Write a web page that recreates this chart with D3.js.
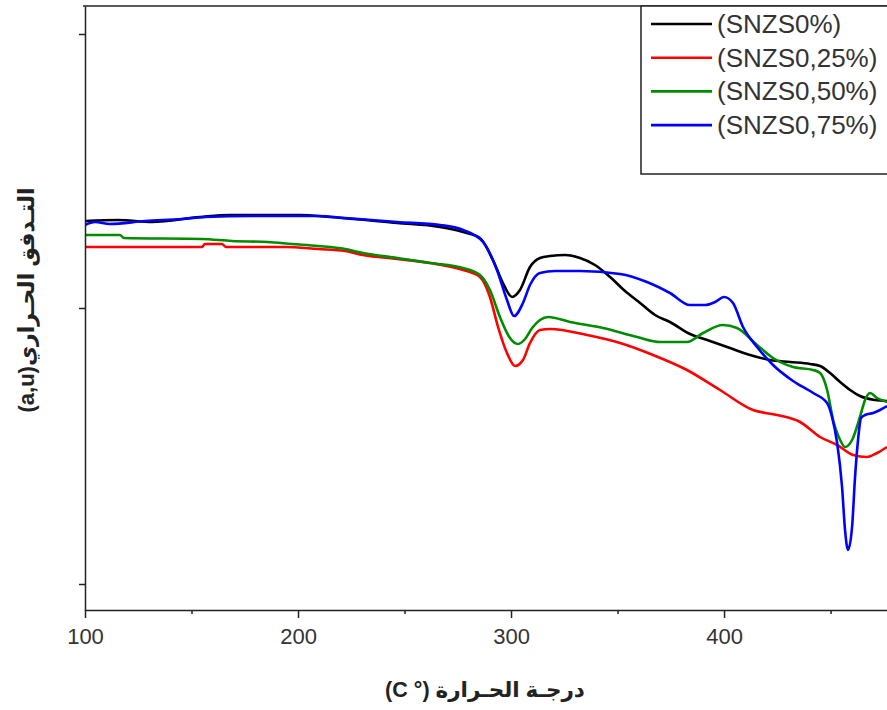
<!DOCTYPE html>
<meta charset="utf-8">
<style>
body { margin: 0; background: #fff; }
svg { display: block; font-family: Arial, "Liberation Sans", "DejaVu Sans", sans-serif; }
.curve { fill: none; stroke-width: 2.6px; stroke-linejoin: round; }
</style>
<svg width="887" height="710"></svg>
<script src="https://d3js.org/d3.v7.min.js"></script>
<script>

// temperature (°C), heat flow (a.u.)
var s0 = [[100,3.89],[115.5,3.90],[131.5,3.88],[154,3.93],[168,3.95],[201,3.95],[215,3.93],[246.5,3.87],
  [266.7,3.83],[277.5,3.78],[285.4,3.72],[291.5,3.50],[296.2,3.27],[300.5,3.13],[304.2,3.20],[308.9,3.43],
  [313.6,3.52],[318.3,3.54],[325.4,3.55],[332.4,3.52],[339.4,3.45],[346.5,3.33],[353.5,3.19],[360.6,3.07],
  [367.6,2.95],[374.6,2.88],[384,2.76],[393.4,2.69],[402.8,2.62],[412.2,2.55],[421.6,2.50],[431,2.48],
  [440.4,2.46],[445.1,2.44],[449.8,2.37],[454.5,2.28],[459.2,2.20],[463.8,2.14],[470.9,2.10],[476.5,2.09]];

var s25 = [[100,3.63],[154.9,3.63],[156.3,3.66],[164.3,3.66],[166.2,3.63],[193.9,3.63],[209.4,3.61],
  [222.1,3.59],[230.5,3.55],[246.5,3.51],[262,3.47],[277.5,3.40],[285.4,3.33],[290.1,3.13],[293.9,2.83],
  [298.1,2.57],[301.9,2.44],[305.6,2.50],[308.9,2.67],[313.6,2.80],[318.3,2.81],[335.7,2.75],[351.2,2.67],
  [366.7,2.55],[382.6,2.40],[398.1,2.20],[413.6,2.00],[424.9,1.95],[435.7,1.88],[445.1,1.73],[453.1,1.65],
  [460.6,1.55],[467.1,1.53],[471.8,1.57],[476.5,1.63]];

var s50 = [[100,3.75],[116.4,3.75],[118.3,3.72],[154.9,3.71],[169,3.69],[185.9,3.68],[197.2,3.66],
  [209.4,3.64],[222.1,3.61],[230.5,3.57],[246.5,3.52],[262,3.47],[277.5,3.42],[285.4,3.35],[290.1,3.20],
  [294.8,2.93],[299.5,2.72],[303.3,2.66],[306.6,2.71],[309.9,2.82],[313.6,2.90],[317.4,2.93],[327.7,2.88],
  [343.2,2.82],[359.2,2.73],[370,2.68],[382.6,2.68],[390.1,2.77],[399.5,2.85],[406.1,2.82],[415.5,2.65],
  [423,2.52],[432.4,2.43],[441.8,2.40],[445.1,2.37],[448.4,2.20],[451.2,1.90],[454.5,1.70],[456.8,1.63],
  [460.1,1.70],[463.8,1.93],[466.2,2.10],[468.5,2.17],[471.8,2.12],[476.5,2.08]];

var s75 = [[100,3.85],[104.7,3.88],[111.7,3.86],[128.2,3.89],[145.5,3.91],[156.3,3.93],[178.4,3.94],
  [209.4,3.94],[222.1,3.92],[246.5,3.88],[266.7,3.85],[277.5,3.80],[286.9,3.68],[293.4,3.40],[298.1,3.10],
  [301.4,2.94],[305.6,3.07],[308.9,3.25],[313.6,3.37],[320.7,3.39],[332.4,3.39],[351.2,3.36],[363.8,3.28],
  [374.6,3.17],[384,3.05],[391.1,3.05],[395.8,3.08],[400,3.13],[404.2,3.07],[408.9,2.83],[415.5,2.63],
  [423,2.45],[432.4,2.29],[441.8,2.17],[448.4,2.07],[450.7,1.93],[453.1,1.67],[455.4,1.23],[456.8,0.80],
  [458.2,0.60],[460.1,0.83],[461.5,1.33],[462.9,1.70],[464.3,1.92],[466.2,1.95],[470,1.97],[473.2,2.00],
  [476.5,2.04]];

var names = ["(SNZS0%)", "(SNZS0,25%)", "(SNZS0,50%)", "(SNZS0,75%)"];
var colors = ["#000000", "#ff0000", "#008c00", "#0000ff"];
var xMajor = [100, 200, 300, 400];
var xMinor = [150, 250, 350, 450];
var yTicks = [0.26, 3.02, 5.76];

var series = [s0, s25, s50, s75];

var svg = d3.select("svg"),
    mLeft = 85, mRight = 887, mTop = 6, mBottom = 610;

var x = d3.scaleLinear().domain([100, 476.5]).range([mLeft, mRight]);
var y = d3.scaleLinear().domain([0, 6.04]).range([mBottom, mTop]);

svg.append("clipPath").attr("id", "plot")
  .append("rect").attr("x", mLeft).attr("y", mTop).attr("width", mRight - mLeft).attr("height", mBottom - mTop);

var line = d3.line()
    .x(d => x(d[0]))
    .y(d => y(d[1]))
    .curve(d3.curveMonotoneX);

svg.append("g").attr("clip-path", "url(#plot)")
  .selectAll("path")
  .data(series)
  .enter().append("path")
    .attr("class", "curve")
    .attr("d", line)
    .attr("stroke", (d, i) => colors[i]);

// frame
svg.append("line").attr("x1", mLeft - 2).attr("x2", mRight).attr("y1", mTop).attr("y2", mTop)
  .attr("stroke", "#222").attr("stroke-width", 1.5);

// x axis
var xAxis = svg.append("g").attr("transform", "translate(0," + mBottom + ")")
  .call(d3.axisBottom(x).tickValues(xMajor).tickSize(8).tickSizeOuter(0).tickFormat(d3.format("d")));
svg.append("g").attr("transform", "translate(0," + mBottom + ")")
  .call(d3.axisBottom(x).tickValues(xMinor).tickSize(4).tickFormat(""))
  .call(g => g.select(".domain").remove());

// y axis
svg.append("g").attr("transform", "translate(" + mLeft + ",0)")
  .call(d3.axisLeft(y).tickValues(yTicks).tickSize(6).tickSizeOuter(0).tickFormat(""));

svg.selectAll(".domain, .tick line").attr("stroke", "#222").attr("stroke-width", 1.5);
xAxis.selectAll("text").attr("font-size", 22).attr("fill", "#333").attr("dy", "1.05em")
  .style("font-family", "Arial, 'Liberation Sans', sans-serif");

// axis titles
svg.append("text")
  .attr("x", 485).attr("y", 697)
  .attr("text-anchor", "middle")
  .attr("direction", "rtl")
  .attr("font-weight", "bold").attr("font-size", 21.5).attr("fill", "#222")
  .text("درجـة الحـرارة (° C)");

svg.append("text")
  .attr("transform", "translate(34,300) rotate(-90)")
  .attr("text-anchor", "middle")
  .attr("direction", "rtl")
  .attr("font-weight", "bold").attr("font-size", 22).attr("fill", "#222")
  .text("التـدفق الحـراري(a,u)");

// legend
var lg = svg.append("g");
lg.append("rect").attr("x", 641).attr("y", mTop).attr("width", 260).attr("height", 168)
  .attr("fill", "#fff").attr("stroke", "#222").attr("stroke-width", 1.5);

var item = lg.selectAll("g.item").data(names).enter().append("g")
  .attr("class", "item")
  .attr("transform", (d, i) => "translate(0," + (24 + i * 33.7) + ")");
item.append("line").attr("x1", 651).attr("x2", 712)
  .attr("stroke", (d, i) => colors[i]).attr("stroke-width", 2.6);
item.append("text").attr("x", 717).attr("y", 9)
  .attr("font-size", 26).attr("fill", "#333")
  .text(d => d);

</script>
